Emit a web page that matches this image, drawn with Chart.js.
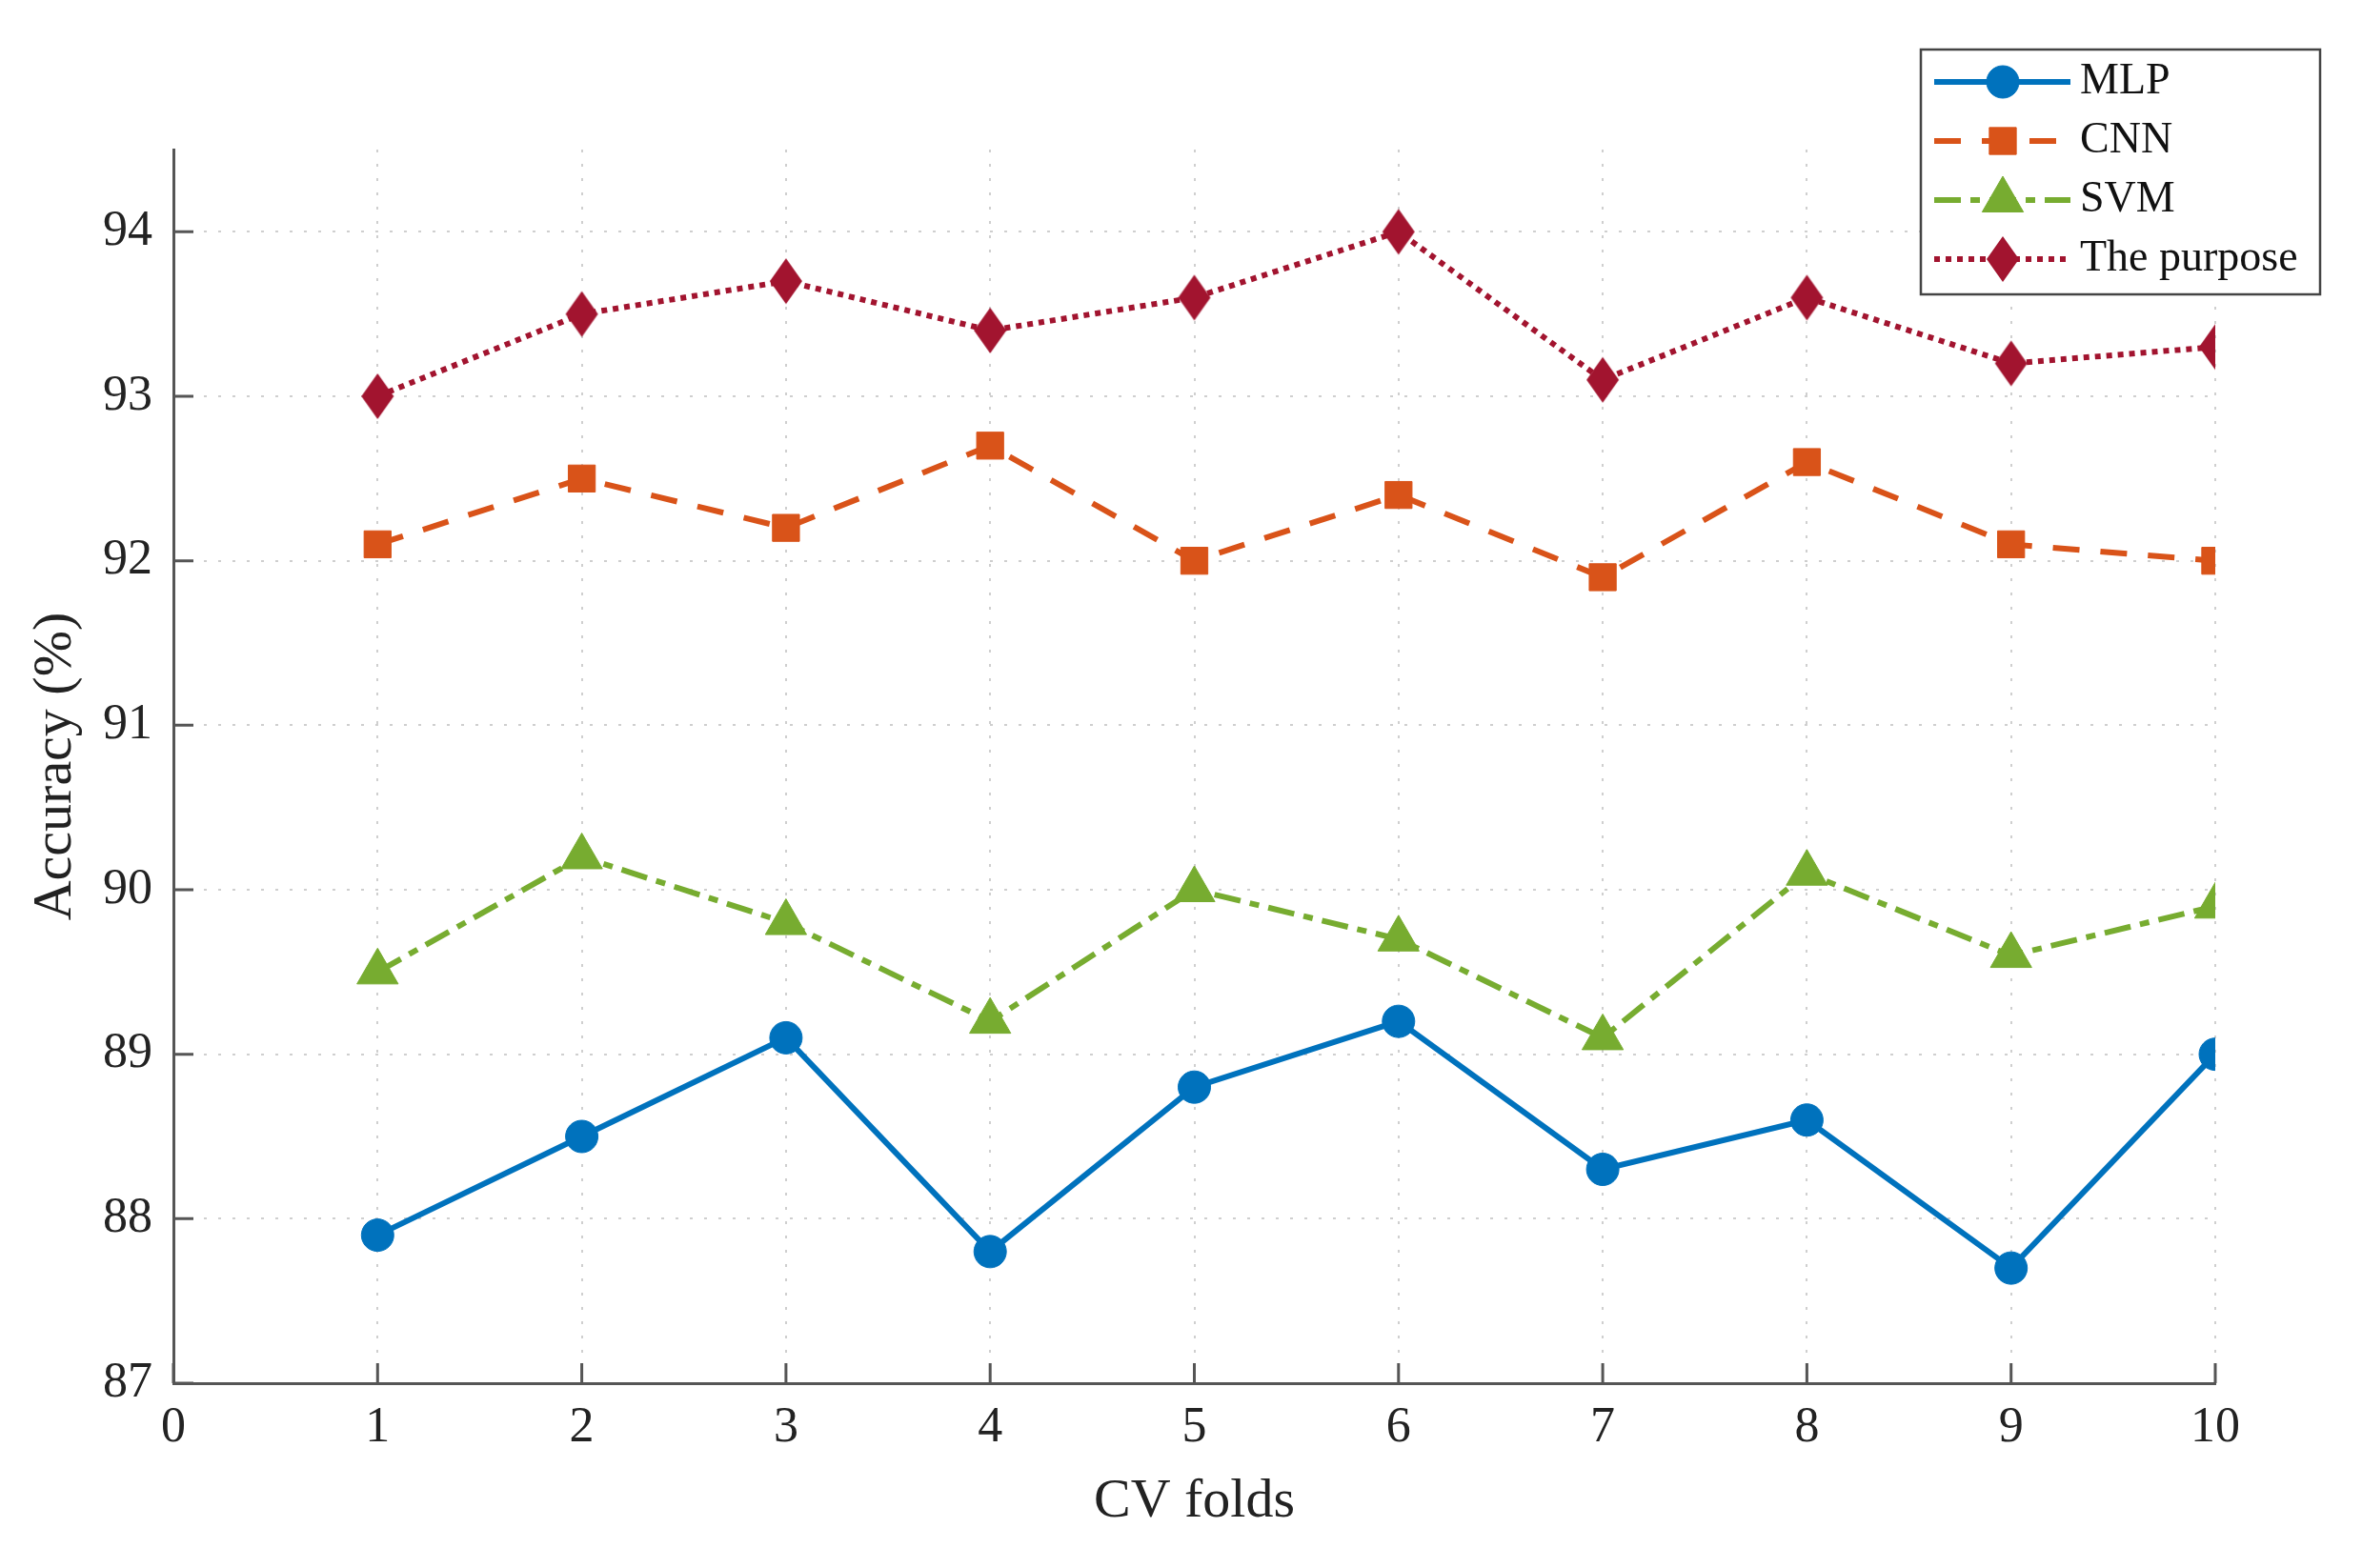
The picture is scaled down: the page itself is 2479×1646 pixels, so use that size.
<!DOCTYPE html>
<html>
<head>
<meta charset="utf-8">
<script src="https://cdn.jsdelivr.net/npm/chart.js@4/dist/chart.umd.min.js"></script>
<style>
  html, body { margin: 0; padding: 0; background: #fff; }
  #wrap { width: 2479px; height: 1646px; position: relative; }
</style>
</head>
<body>
<div id="wrap"><canvas id="chart"></canvas></div>
<script>
// values
var folds = [1, 2, 3, 4, 5, 6, 7, 8, 9, 10]
var mlp = [87.9, 88.5, 89.1, 87.8, 88.8, 89.2, 88.3, 88.6, 87.7, 89.0]
var cnn = [92.1, 92.5, 92.2, 92.7, 92.0, 92.4, 91.9, 92.6, 92.1, 92.0]
var svm = [89.5, 90.2, 89.8, 89.2, 90.0, 89.7, 89.1, 90.1, 89.6, 89.9]
var purpose = [93.0, 93.5, 93.7, 93.4, 93.6, 94.0, 93.1, 93.6, 93.2, 93.3]
var seriesNames = ["MLP", "CNN", "SVM", "The purpose"]
var xTicks = [0, 1, 2, 3, 4, 5, 6, 7, 8, 9, 10]
var yTicks = [87, 88, 89, 90, 91, 92, 93, 94]

var FONT = "'Liberation Serif', 'Times New Roman', serif"

function toPoints(vals) {
    return folds.map(function(f, i) { return {x: f, y: vals[i]} })
}

// tall diamond like matlab's 'd' marker
function makeDiamond(color) {
    var c = document.createElement("canvas")
    c.width = 36
    c.height = 50
    var g = c.getContext("2d")
    g.fillStyle = color
    g.beginPath()
    g.moveTo(18, 1)
    g.lineTo(35, 25)
    g.lineTo(18, 49)
    g.lineTo(1, 25)
    g.closePath()
    g.fill()
    return c
}

function dataset(label, vals, color, dash, style, radius) {
    return {
        label: label,
        data: toPoints(vals),
        borderColor: color,
        backgroundColor: color,
        borderWidth: 6,
        borderDash: dash,
        borderCapStyle: "butt",
        tension: 0,
        pointStyle: style,
        pointRadius: radius,
        pointHoverRadius: radius,
        pointBackgroundColor: color,
        pointBorderColor: color,
        pointBorderWidth: 1
    }
}

var datasets = [
    dataset(seriesNames[0], mlp, "#0072BD", [], "circle", 17),
    dataset(seriesNames[1], cnn, "#D95319", [28, 22], "rect", 20),
    dataset(seriesNames[2], svm, "#77AC30", [28, 10, 10, 10], "triangle", 25),
    dataset(seriesNames[3], purpose, "#A2142F", [6, 6], makeDiamond("#A2142F"), 18)
]

// matlab style inward tick marks
var innerTicks = {
    id: "innerTicks",
    afterDatasetsDraw: function(chart) {
        var ctx = chart.ctx
        var xs = chart.scales.x, ys = chart.scales.y
        var area = chart.chartArea
        ctx.save()
        ctx.strokeStyle = "#555"
        ctx.lineWidth = 3
        ctx.setLineDash([])
        ctx.beginPath()
        xTicks.forEach(function(v) {
            var px = xs.getPixelForValue(v)
            ctx.moveTo(px, area.bottom)
            ctx.lineTo(px, area.bottom - 21)
        })
        yTicks.forEach(function(v) {
            var py = ys.getPixelForValue(v)
            ctx.moveTo(area.left, py)
            ctx.lineTo(area.left + 21, py)
        })
        ctx.stroke()
        ctx.restore()
    }
}

// boxed legend at top right with line + marker samples
var boxLegend = {
    id: "boxLegend",
    afterDraw: function(chart) {
        var ctx = chart.ctx
        var x0 = 2016, y0 = 52, w = 419, h = 257
        ctx.save()
        ctx.fillStyle = "#fff"
        ctx.fillRect(x0, y0, w, h)
        ctx.strokeStyle = "#444"
        ctx.lineWidth = 2.5
        ctx.strokeRect(x0, y0, w, h)
        chart.data.datasets.forEach(function(ds, i) {
            var cy = 86 + i * 62
            ctx.save()
            ctx.strokeStyle = ds.borderColor
            ctx.lineWidth = ds.borderWidth
            ctx.lineCap = "butt"
            ctx.setLineDash(ds.borderDash)
            ctx.beginPath()
            ctx.moveTo(2030, cy)
            ctx.lineTo(2173, cy)
            ctx.stroke()
            ctx.restore()
            ctx.save()
            ctx.fillStyle = ds.pointBackgroundColor
            ctx.strokeStyle = ds.pointBorderColor
            ctx.lineWidth = 1
            Chart.helpers.drawPoint(ctx, {pointStyle: ds.pointStyle, radius: ds.pointRadius, rotation: 0, borderWidth: 1}, 2102, cy)
            ctx.restore()
            ctx.fillStyle = "#111"
            ctx.font = "46px " + FONT
            ctx.textAlign = "left"
            ctx.textBaseline = "middle"
            ctx.fillText(ds.label, 2183, cy)
        })
        ctx.restore()
    }
}

var gridStyle = {color: "#cfcfcf", lineWidth: 2, drawTicks: false}

new Chart(document.getElementById("chart"), {
    type: "line",
    data: {datasets: datasets},
    options: {
        responsive: true,
        maintainAspectRatio: false,
        devicePixelRatio: 1,
        animation: false,
        layout: {padding: {top: 157, right: 154, left: 0, bottom: 0}},
        plugins: {
            legend: {display: false},
            tooltip: {enabled: false}
        },
        scales: {
            x: {
                type: "linear",
                min: 0,
                max: 10,
                afterFit: function(scale) { scale.height = 194 },
                afterBuildTicks: function(scale) {
                    scale.ticks = xTicks.map(function(v) { return {value: v} })
                },
                grid: gridStyle,
                border: {display: true, color: "#555", width: 3, dash: [3, 12]},
                ticks: {
                    color: "#222",
                    padding: 16,
                    maxRotation: 0,
                    autoSkip: false,
                    font: {family: FONT, size: 52}
                },
                title: {
                    display: true,
                    text: "CV folds",
                    color: "#222",
                    padding: {top: 0, bottom: 34},
                    font: {family: FONT, size: 58}
                }
            },
            y: {
                type: "linear",
                min: 87,
                max: 94.5,
                afterFit: function(scale) { scale.width = 182 },
                afterBuildTicks: function(scale) {
                    scale.ticks = yTicks.map(function(v) { return {value: v} })
                },
                grid: gridStyle,
                border: {display: true, color: "#555", width: 3, dash: [3, 12]},
                ticks: {
                    color: "#222",
                    padding: 22,
                    autoSkip: false,
                    font: {family: FONT, size: 52}
                },
                title: {
                    display: true,
                    text: "Accuracy (%)",
                    color: "#222",
                    padding: {top: 24, bottom: 0},
                    font: {family: FONT, size: 58}
                }
            }
        }
    },
    plugins: [innerTicks, boxLegend]
})
</script>
</body>
</html>
